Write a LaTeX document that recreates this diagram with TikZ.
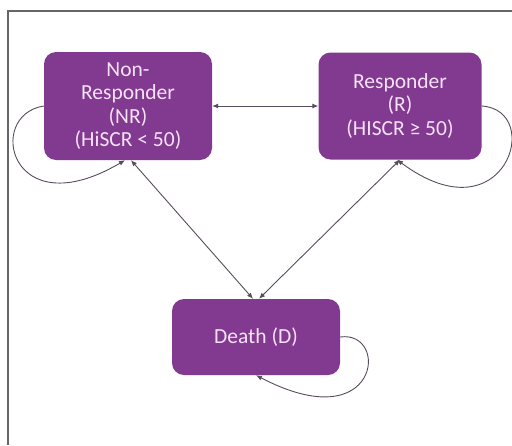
\documentclass[tikz,border=0pt]{standalone}
\usepackage{fontspec}
\setmainfont{Carlito}
\usepackage{tikz}
\usetikzlibrary{
    arrows.meta,
    calc
}

\definecolor{statefill}{RGB}{130,58,144}
\definecolor{statetext}{RGB}{246,226,246}
\definecolor{linkgray}{RGB}{88,76,92}

\begin{document}
\begin{tikzpicture}[x=1pt,y=-1pt,
    state/.style={draw=none, fill=statefill, rounded corners=12pt,
        text=statetext, align=center, inner sep=0pt,
        font=\fontsize{21.5}{23.5}\selectfont},
    link/.style={linkgray, line width=0.9pt, {Latex[length=6pt,width=5pt]}-{Latex[length=6pt,width=5pt]}},
    selfloop/.style={linkgray, line width=0.9pt, -{Latex[length=6pt,width=5pt]}}
]

\useasboundingbox (0,0) rectangle (512,445);

% Frame (open at right and bottom)
\draw[gray!80!black, line width=1.4pt] (8,445) -- (8,11) -- (512,11);

% States
\node[state, minimum width=168pt, minimum height=108pt] (nr) at (128,106)
    {Non-\\Responder\\(NR)\\(HiSCR < 50)};
\node[state, minimum width=163pt, minimum height=107pt] (r) at (400,106)
    {Responder\\(R)\\(HISCR ≥ 50)};
\node[state, minimum width=168pt, minimum height=76pt] (d) at (256,337)
    {Death (D)};

% Transitions between states
\draw[link] (nr.east) -- (r.west);
\draw[link] ([xshift=3pt]nr.south) -- ([xshift=-3pt]d.north);
\draw[link] (r.south) -- ([xshift=3pt]d.north);

% Self loops
\draw[selfloop] (nr.west) .. controls (-15,115) and (10,228) .. ([xshift=-3pt]nr.south);
\draw[selfloop] (r.east) .. controls (545,110) and (505,240) .. ([xshift=-3pt]r.south);
\draw[selfloop] (d.east) .. controls (390,330) and (380,440) .. (d.south);

\end{tikzpicture}
\end{document}
